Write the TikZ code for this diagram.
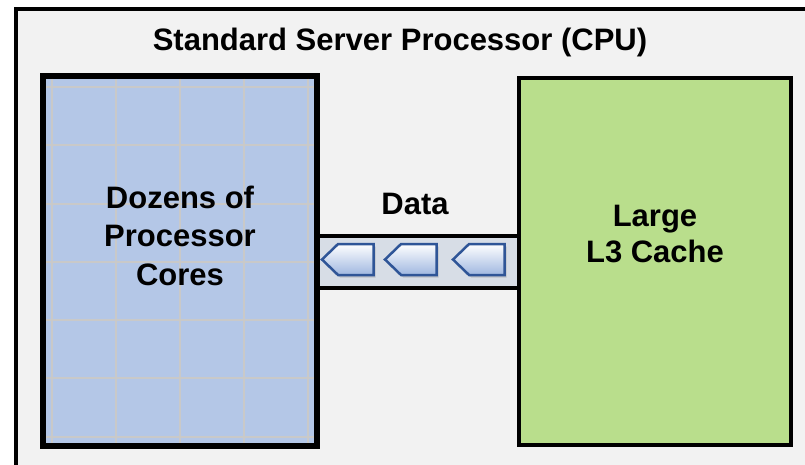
\documentclass[tikz,border=0pt]{standalone}
\usepackage{fontspec}
\setmainfont{Liberation Sans}
\usetikzlibrary{shapes.symbols,shadows}

\definecolor{panel}{HTML}{F2F2F2}
\definecolor{corefill}{HTML}{B4C7E7}
\definecolor{cachefill}{HTML}{B9DE8C}
\definecolor{gridgray}{HTML}{C9C9C9}
\definecolor{busfill}{HTML}{D7DDE6}
\definecolor{arrowedge}{HTML}{2F5597}
\definecolor{arrowlow}{HTML}{9FB7E0}

\begin{document}
\begin{tikzpicture}[x=1pt,y=-1pt,
  txt/.style={font=\bfseries\fontsize{31}{38.5}\selectfont, align=center, inner sep=0pt},
  unit/.style={draw=black, line width=4pt, inner sep=0pt, minimum width=272pt},
  packet/.style={signal, signal to=west, signal pointer angle=88,
    minimum width=51.5pt, minimum height=31pt, inner sep=0pt,
    draw=arrowedge, line width=2.5pt, top color=white, bottom color=arrowlow,
    drop shadow={shadow xshift=2pt, shadow yshift=-2.5pt, opacity=0.3}},
  gridline/.style={gridgray, line width=1.5pt}]

\path[use as bounding box] (0,0) rectangle (805,465);
\fill[white] (0,0) rectangle (805,465);

% processor package outline (runs off the right and bottom edges)
\begin{scope}
  \clip (0,0) rectangle (805,465);
  \draw[line width=4pt, fill=panel] (16,9) rectangle (840,500);
\end{scope}

\node[txt, anchor=base] (title) at (400,51) {Standard Server Processor (CPU)};

% data bus between cores and cache
\coordinate (busTL) at (316,236);
\coordinate (busBR) at (519,287.5);
\fill[busfill] (busTL) rectangle (busBR);
\draw[line width=4pt] (busTL) -- (busTL -| busBR);
\draw[line width=4pt] (busTL |- busBR) -- (busBR);

% core array
\node[unit, fill=corefill, minimum height=368pt] (cores) at (180,261) {};
\begin{scope}
  \clip (46,79) rectangle (314,443);
  \foreach \gx in {52,116,180,244,308}
    \draw[gridline] (\gx,79) -- (\gx,443);
  \foreach \gy in {87,145,204,262,320,378,437}
    \draw[gridline] (46,\gy) -- (314,\gy);
\end{scope}
\draw[line width=4pt] (cores.north west) rectangle (cores.south east);

% cache
\node[unit, fill=cachefill, minimum height=367pt] (cache) at (655,261.5) {};

\node[txt] (coresText) at (180,235.6) {Dozens of\\Processor\\Cores};
\node[txt, font=\bfseries\fontsize{31}{36}\selectfont] (cacheText) at (655,234.3) {Large\\L3 Cache};
\node[txt, anchor=base] (dataText) at (415,214) {Data};

% data packets moving towards the cores
\node[packet, anchor=east] (pk1) at (374.75,259.5) {};
\node[packet, anchor=east] (pk2) at (437.75,259.5) {};
\node[packet, anchor=east] (pk3) at (505.75,259.5) {};
\end{tikzpicture}
\end{document}
